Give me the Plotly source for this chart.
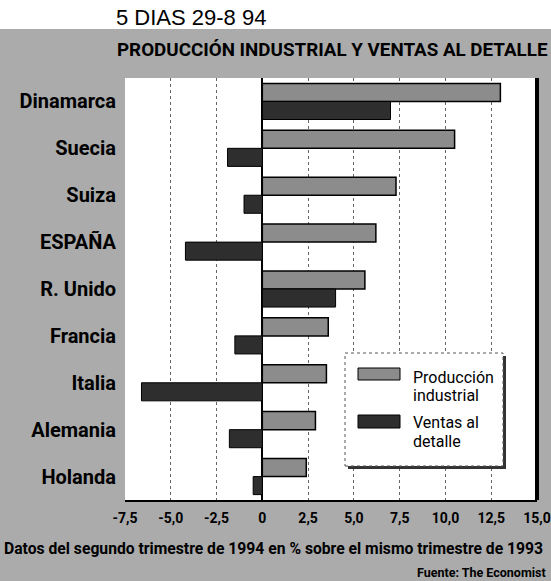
import plotly.graph_objects as go

# ---- data ----
countries = ["Dinamarca", "Suecia", "Suiza", "ESPAÑA", "R. Unido",
             "Francia", "Italia", "Alemania", "Holanda"]
produccion = [13.0, 10.5, 7.3, 6.2, 5.6, 3.6, 3.5, 2.9, 2.4]
ventas = [7.0, -1.9, -1.0, -4.2, 4.0, -1.5, -6.6, -1.8, -0.5]
tick_vals = [-7.5, -5.0, -2.5, 0, 2.5, 5.0, 7.5, 10.0, 12.5, 15.0]
tick_text = ["-7,5", "-5,0", "-2,5", "0", "2,5", "5,0", "7,5", "10,0", "12,5", "15,0"]
series_names = ["Producción industrial", "Ventas al detalle"]
legend_lines = [["Producción", "industrial"], ["Ventas al", "detalle"]]
header = "5 DIAS 29-8 94"
title = "PRODUCCIÓN INDUSTRIAL Y VENTAS AL DETALLE"
note = "Datos del segundo trimestre de 1994 en % sobre el mismo trimestre de 1993"
source = "Fuente: The Economist"

# ---- styling ----
W, H = 551, 581
L, R, T, B = 125, 14, 78, 81
PW, PH = W - L - R, H - T - B
BG = "#ababab"
PROD_C = "#8c8c8c"
VENT_C = "#2e2e2e"
COND = "Roboto, 'DejaVu Sans Condensed', sans-serif"


def px(p):
    return (p - L) / PW


def py(p):
    return (H - B - p) / PH


fig = go.Figure()
fig.add_trace(go.Bar(y=countries, x=produccion, orientation="h", name=series_names[0],
                     marker=dict(color=PROD_C, line=dict(color="black", width=1.5)),
                     showlegend=False))
fig.add_trace(go.Bar(y=countries, x=ventas, orientation="h", name=series_names[1],
                     marker=dict(color=VENT_C, line=dict(color="black", width=1)),
                     showlegend=False))

shapes = []
shapes.append(dict(type="rect", xref="paper", yref="paper", x0=px(0), x1=px(W),
                   y0=py(29), y1=py(0), fillcolor="white", line=dict(width=0), layer="below"))
shapes.append(dict(type="line", xref="paper", yref="paper", x0=1, x1=1,
                   y0=0, y1=1, line=dict(color="black", width=4)))
shapes.append(dict(type="rect", xref="paper", yref="paper", x0=px(348), x1=px(506),
                   y0=py(469), y1=py(356), fillcolor="#333333", line=dict(width=0)))
shapes.append(dict(type="rect", xref="paper", yref="paper", x0=px(345), x1=px(503),
                   y0=py(466), y1=py(353), fillcolor="white",
                   line=dict(color="#555555", width=1, dash="dot")))
sw_y = [(368, 380), (415, 428)]
sw_c = [PROD_C, VENT_C]
for (a, b), c in zip(sw_y, sw_c):
    shapes.append(dict(type="rect", xref="paper", yref="paper", x0=px(358), x1=px(400),
                       y0=py(b), y1=py(a), fillcolor=c, line=dict(color="black", width=1)))

annotations = []
annotations.append(dict(text=header, xref="paper", yref="paper", x=px(114), y=py(17),
                        xanchor="left", yanchor="middle", showarrow=False,
                        font=dict(family="'Liberation Sans', Arial, sans-serif", size=22, color="black")))
annotations.append(dict(text=title, xref="paper", yref="paper", x=px(115), y=py(50),
                        xanchor="left", yanchor="middle", showarrow=False,
                        font=dict(family=COND, size=18.8, color="black", weight="bold")))
annotations.append(dict(text=note, xref="paper", yref="paper", x=px(2), y=py(548),
                        xanchor="left", yanchor="middle", showarrow=False,
                        font=dict(family=COND, size=15.7, color="black", weight="bold")))
annotations.append(dict(text=source, xref="paper", yref="paper", x=px(548), y=py(572),
                        xanchor="right", yanchor="middle", showarrow=False,
                        font=dict(family=COND, size=12.5, color="black", weight="bold")))
leg_y = [(377, 395), (422, 441)]
for lines, ys in zip(legend_lines, leg_y):
    for t, yy in zip(lines, ys):
        annotations.append(dict(text=t, xref="paper", yref="paper", x=px(411), y=py(yy),
                                xanchor="left", yanchor="middle", showarrow=False,
                                font=dict(family=COND, size=16, color="black")))

fig.update_layout(
    width=W, height=H,
    margin=dict(l=L, r=R, t=T, b=B, pad=0, autoexpand=False),
    paper_bgcolor=BG, plot_bgcolor="white",
    barmode="group", bargap=0.23, bargroupgap=0,
    xaxis=dict(range=[-7.5, 15.0], tickvals=tick_vals, ticktext=tick_text,
               showgrid=True, gridcolor="#666666", griddash="dot", gridwidth=1,
               zeroline=True, zerolinecolor="black", zerolinewidth=2,
               showline=True, linecolor="black", linewidth=2,
               ticks="", ticklabelstandoff=4, ticklabeloverflow="allow",
               automargin=False,
               tickfont=dict(family=COND, size=14, color="black", weight="bold"),
               fixedrange=True),
    yaxis=dict(autorange="reversed", showgrid=False, zeroline=False, showline=False,
               ticks="", ticklabelstandoff=8, automargin=False,
               tickfont=dict(family=COND, size=20, color="black", weight="bold"),
               fixedrange=True),
    shapes=shapes, annotations=annotations,
    showlegend=False,
)

fig.write_html("out.html", config={"displayModeBar": False},
               post_script="document.body.style.margin='0';document.body.style.padding='0';")
